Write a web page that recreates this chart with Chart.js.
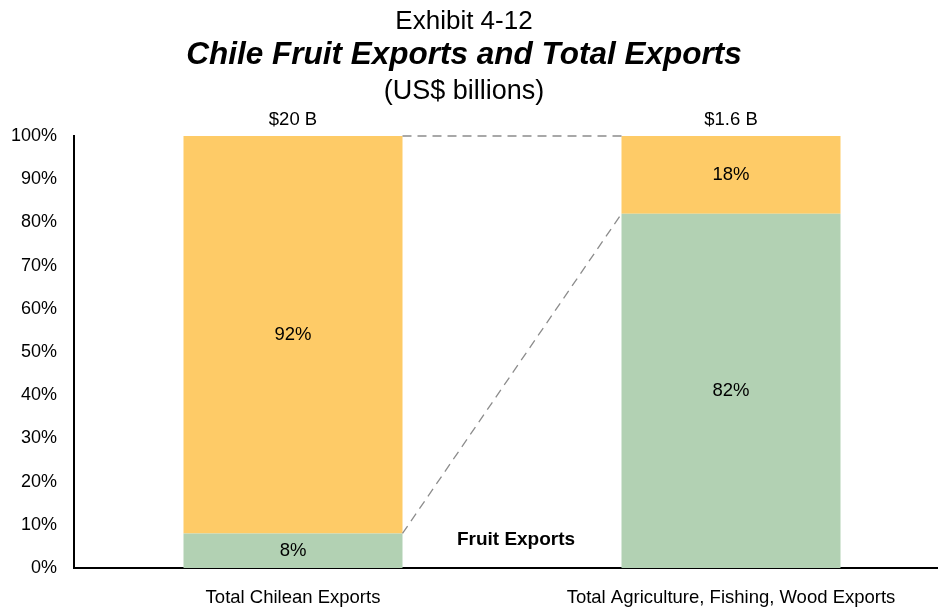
<!DOCTYPE html>
<html>
<head>
<meta charset="utf-8">
<script src="https://cdn.jsdelivr.net/npm/chart.js@4/dist/chart.umd.min.js"></script>
<style>
  html, body { margin: 0; padding: 0; background: #fff; overflow: hidden; }
  #wrap { width: 950px; height: 608px; }
</style>
</head>
<body>
<div id="wrap"><canvas id="exports" width="950" height="608"></canvas></div>
<script>
// Share of each export total, in percent
const categories = ['Total Chilean Exports', 'Total Agriculture, Fishing, Wood Exports'];
const fruitShare = [8, 82];
const otherShare = [92, 18];
const totalLabels = ['$20 B', '$1.6 B'];
const yTicks = [0, 10, 20, 30, 40, 50, 60, 70, 80, 90, 100];

const FONT = 'Arial, "Liberation Sans", Helvetica, sans-serif';
const YELLOW = '#fecb67';
const GREEN = '#b2d1b3';

// Three-line heading drawn above the plot
const headingPlugin = {
    id: 'heading',
    afterDraw: (chart) => {
        const ctx = chart.ctx;
        const cx = 464;
        ctx.save();
        ctx.fillStyle = '#000';
        ctx.textAlign = 'center';
        ctx.textBaseline = 'alphabetic';
        ctx.font = `26px ${FONT}`;
        ctx.fillText('Exhibit 4-12', cx, 29);
        ctx.font = `italic bold 31.5px ${FONT}`;
        ctx.fillText('Chile Fruit Exports and Total Exports', cx, 64);
        ctx.font = `27px ${FONT}`;
        ctx.fillText('(US$ billions)', cx, 99);
        ctx.restore();
    }
};

// Value labels inside segments, totals over bars, dashed connectors
const annotatePlugin = {
    id: 'annotate',
    afterDatasetsDraw: (chart) => {
        const ctx = chart.ctx;
        const x = chart.scales.x;
        const y = chart.scales.y;
        const fruitBars = chart.getDatasetMeta(0).data;
        const otherBars = chart.getDatasetMeta(1).data;

        ctx.save();
        // connectors from the left bar to the right bar
        ctx.strokeStyle = '#8c8c8c';
        ctx.lineWidth = 1.3;
        ctx.setLineDash([9, 6]);
        const l = otherBars[0], r = otherBars[1];
        const lRight = l.x + l.width / 2, rLeft = r.x - r.width / 2;
        ctx.beginPath();
        ctx.moveTo(lRight, y.getPixelForValue(100));
        ctx.lineTo(rLeft, y.getPixelForValue(100));
        ctx.moveTo(lRight, y.getPixelForValue(fruitShare[0]));
        ctx.lineTo(rLeft, y.getPixelForValue(fruitShare[1]));
        ctx.stroke();
        ctx.setLineDash([]);

        ctx.fillStyle = '#000';
        ctx.textAlign = 'center';
        ctx.textBaseline = 'middle';
        ctx.font = `18.5px ${FONT}`;
        [fruitBars, otherBars].forEach((bars, di) => {
            const vals = di === 0 ? fruitShare : otherShare;
            bars.forEach((bar, i) => {
                ctx.fillText(vals[i] + '%', bar.x, (bar.y + bar.base) / 2);
            });
        });
        otherBars.forEach((bar, i) => {
            ctx.fillText(totalLabels[i], bar.x, y.getPixelForValue(100) - 16);
        });

        ctx.font = `bold 19px ${FONT}`;
        ctx.fillText('Fruit Exports', x.getPixelForValue(0.5) + 4, y.getPixelForValue(6.6));
        ctx.restore();
    }
};

new Chart(document.getElementById('exports'), {
    type: 'bar',
    data: {
        labels: categories,
        datasets: [
            { label: 'Fruit Exports', data: fruitShare, backgroundColor: GREEN,
              barPercentage: 0.5, categoryPercentage: 1.0 },
            { label: 'Other', data: otherShare, backgroundColor: YELLOW,
              barPercentage: 0.5, categoryPercentage: 1.0 }
        ]
    },
    options: {
        responsive: false,
        animation: false,
        events: [],
        layout: { padding: { top: 136, left: 0, right: 0, bottom: 0 } },
        plugins: {
            legend: { display: false },
            tooltip: { enabled: false }
        },
        scales: {
            x: {
                stacked: true,
                grid: { display: false, drawTicks: false },
                border: { color: '#000', width: 2 },
                ticks: { color: '#000', padding: 19, font: { family: FONT, size: 18.5 } },
                afterFit: (s) => { s.height = 40; }
            },
            y: {
                stacked: true,
                min: 0,
                max: 100,
                afterBuildTicks: (s) => { s.ticks = yTicks.map(v => ({ value: v })); },
                grid: { display: false, drawTicks: false },
                border: { color: '#000', width: 2 },
                ticks: {
                    color: '#000',
                    padding: 17,
                    font: { family: FONT, size: 18 },
                    callback: (v) => v + '%'
                },
                afterFit: (s) => { s.width = 74; }
            }
        }
    },
    plugins: [headingPlugin, annotatePlugin]
});
</script>
</body>
</html>
